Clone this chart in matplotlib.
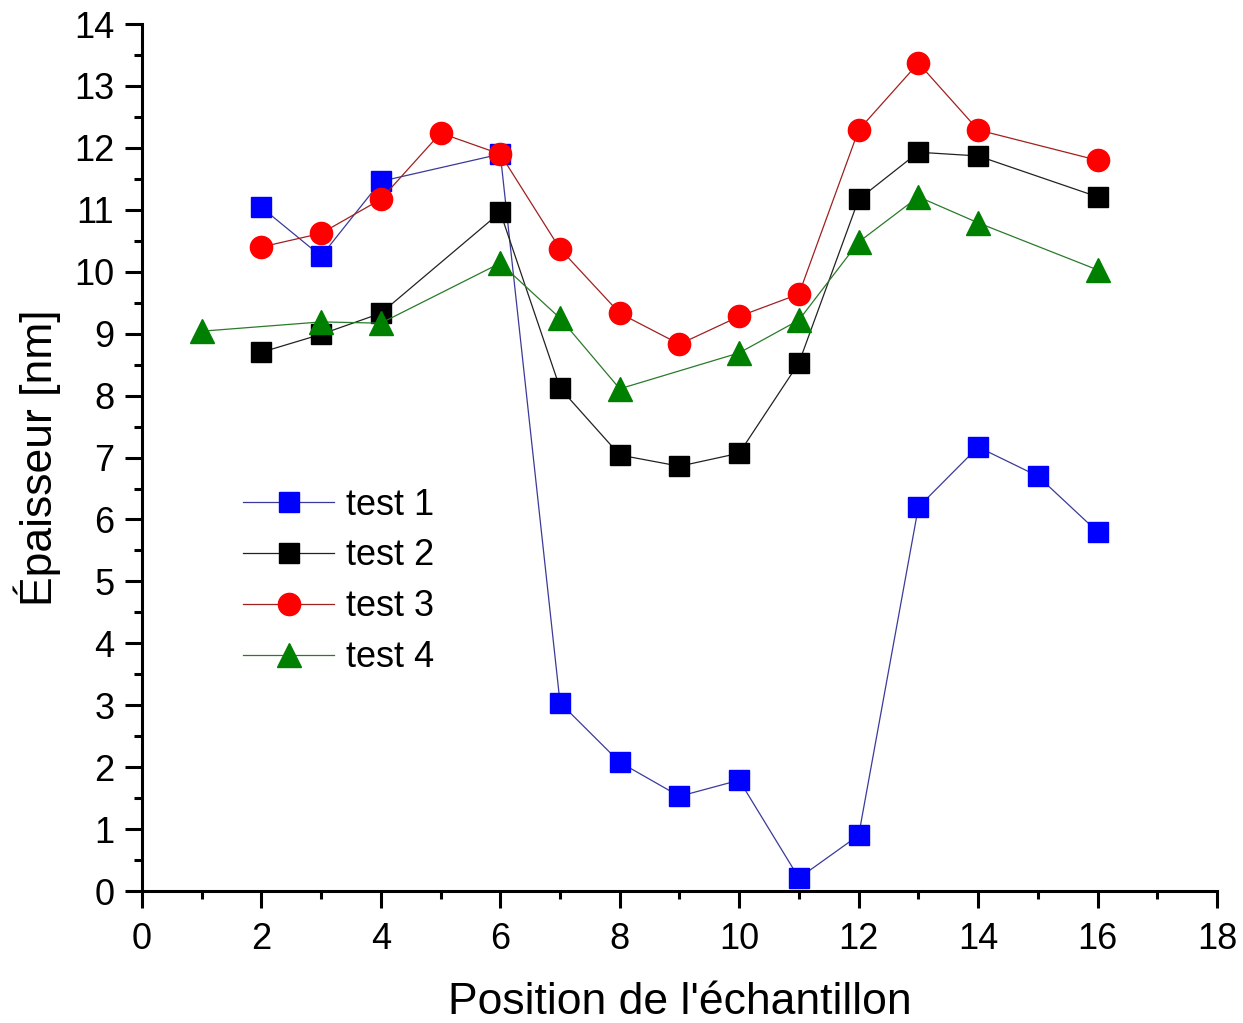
import matplotlib
matplotlib.use("Agg")
import matplotlib.pyplot as plt
from matplotlib.ticker import MultipleLocator

plt.rcParams['font.family'] = ['Liberation Sans', 'DejaVu Sans']

x1 = [2, 3, 4, 6, 7, 8, 9, 10, 11, 12, 13, 14, 15, 16]
y1 = [11.04, 10.25, 11.46, 11.90, 3.04, 2.08, 1.53, 1.79, 0.21, 0.90, 6.20, 7.17, 6.70, 5.80]

x2 = [2, 3, 4, 6, 7, 8, 9, 10, 11, 12, 13, 14, 16]
y2 = [8.70, 8.99, 9.33, 10.96, 8.12, 7.04, 6.86, 7.07, 8.53, 11.17, 11.93, 11.87, 11.21]

x3 = [2, 3, 4, 5, 6, 7, 8, 9, 10, 11, 12, 13, 14, 16]
y3 = [10.40, 10.62, 11.17, 12.24, 11.90, 10.37, 9.33, 8.83, 9.28, 9.64, 12.29, 13.37, 12.29, 11.80]

x4 = [1, 3, 4, 6, 7, 8, 10, 11, 12, 13, 14, 16]
y4 = [9.04, 9.19, 9.17, 10.14, 9.25, 8.11, 8.69, 9.22, 10.48, 11.21, 10.79, 10.03]

labels = ["test 1", "test 2", "test 3", "test 4"]

fig = plt.figure(figsize=(12.43, 10.23), dpi=100)
ax = fig.add_axes([0.1142, 0.129, 0.8649, 0.8475])

ax.plot(x1, y1, color='#3a3a9a', lw=0.9, marker='s', ms=14, mfc='#0000ff', mec='#0000ff', label=labels[0], zorder=3)
ax.plot(x2, y2, color='#222222', lw=0.9, marker='s', ms=14, mfc='black', mec='black', label=labels[1], zorder=3)
ax.plot(x3, y3, color='#a02020', lw=0.9, marker='o', ms=16, mfc='#ff0000', mec='#ff0000', label=labels[2], zorder=3)
ax.plot(x4, y4, color='#2a7a2a', lw=0.9, marker='^', ms=17, mfc='#008000', mec='#008000', label=labels[3], zorder=3)

ax.set_xlim(0, 18)
ax.set_ylim(0, 14)
ax.xaxis.set_major_locator(MultipleLocator(2))
ax.xaxis.set_minor_locator(MultipleLocator(1))
ax.yaxis.set_major_locator(MultipleLocator(1))
ax.yaxis.set_minor_locator(MultipleLocator(0.5))

for s in ['top', 'right']:
    ax.spines[s].set_visible(False)
for s in ['left', 'bottom']:
    ax.spines[s].set_linewidth(2.2)

ax.tick_params(which='major', direction='out', length=12, width=2.2, labelsize=26, pad=8)
ax.tick_params(axis='x', which='major', pad=10)
ax.tick_params(which='minor', direction='out', length=6, width=2.2)

ax.set_xlabel("Position de l'échantillon", fontsize=32, labelpad=18)
ax.set_ylabel("Épaisseur [nm]", fontsize=32, labelpad=9)

leg = ax.legend(loc='upper left', bbox_to_anchor=(0.081, 0.482), frameon=False,
                fontsize=26, handlelength=2.52, handletextpad=0.33, labelspacing=0.44,
                borderaxespad=0)

fig.savefig("out.png", dpi=100)
